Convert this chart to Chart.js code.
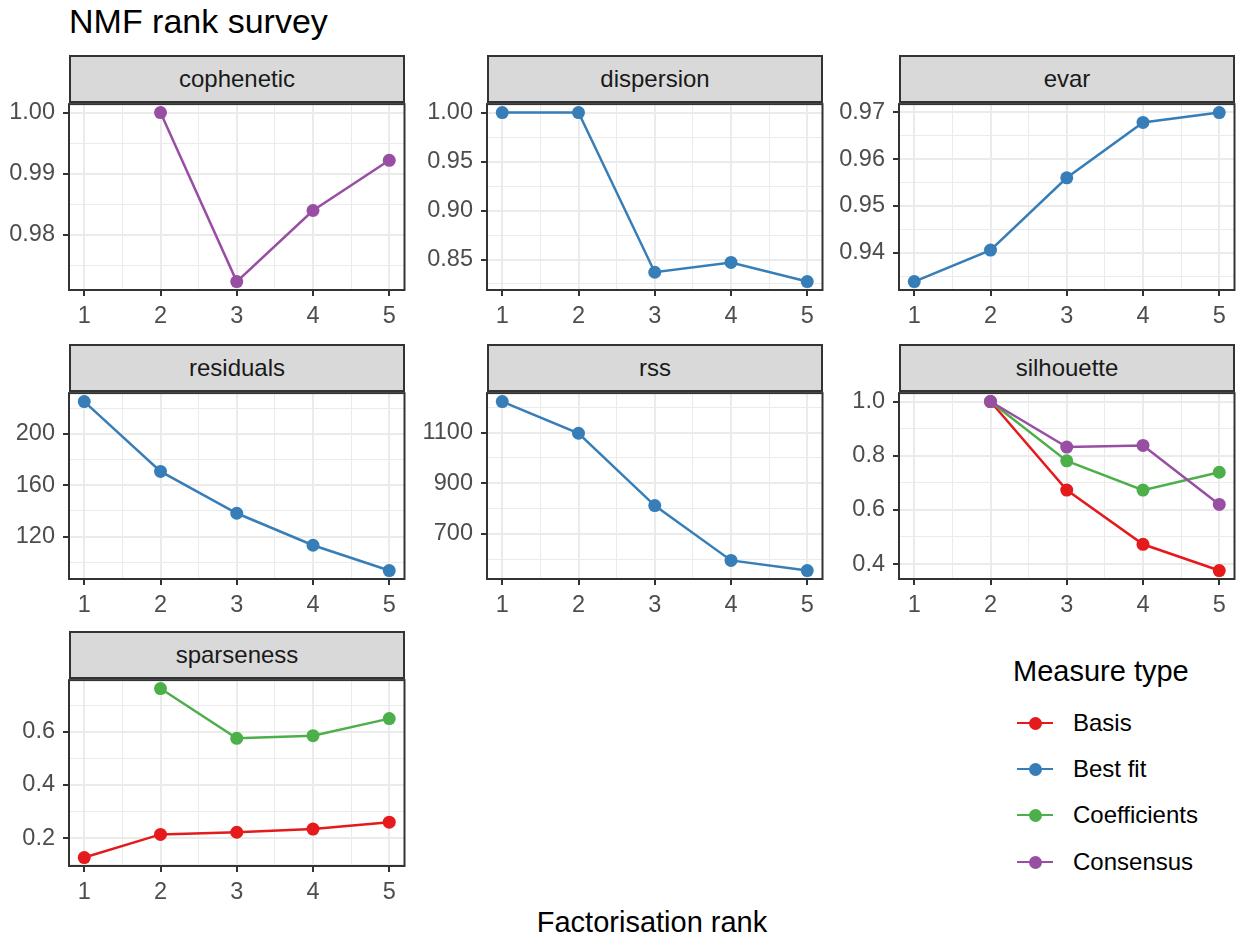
<!DOCTYPE html>
<html>
<head>
<meta charset="utf-8">
<script src="https://cdn.jsdelivr.net/npm/chart.js@4.4.1/dist/chart.umd.min.js"></script>
<style>
    body { margin: 0; background: #fff; font-family: 'Liberation Sans', Arial, Helvetica, sans-serif; }
    #page { position: relative; width: 1237px; height: 940px; overflow: hidden; }
    .strip {
        position: absolute; box-sizing: border-box; background: #d9d9d9; border: 2px solid #333;
        color: #1a1a1a; font-size: 24px; display: flex; align-items: center; justify-content: center;
    }
    canvas { position: absolute; }
    .title { position: absolute; left: 69px; top: 4px; font-size: 34px; line-height: 34px; color: #000; }
    .xtitle { position: absolute; left: 69px; width: 1166px; top: 908px; font-size: 29px; line-height: 29px; text-align: center; color: #000; }
    .legend-title { position: absolute; left: 1013px; top: 657px; font-size: 29px; line-height: 29px; color: #000; }
    .key-line { position: absolute; height: 2.6px; width: 36px; }
    .key-dot { position: absolute; width: 13px; height: 13px; border-radius: 50%; }
    .key-label { position: absolute; font-size: 24px; line-height: 24px; color: #000; }
</style>
</head>
<body>
<div id="page">
    <div class="title">NMF rank survey</div>
    <div class="xtitle">Factorisation rank</div>
    <div class="legend-title">Measure type</div>
</div>
<script>
const ranks = [1, 2, 3, 4, 5];
const xTicks = [1, 2, 3, 4, 5];

// values per measure, one entry per rank (null = not computed)
const copheneticConsensus = [null, 1.000, 0.9724, 0.9840, 0.9922];
const dispersionBestFit = [1.000, 1.000, 0.837, 0.847, 0.8275];
const evarBestFit = [0.9339, 0.9406, 0.9560, 0.9678, 0.9699];
const residualsBestFit = [225.2, 170.8, 138.2, 113.3, 93.6];
const rssBestFit = [1222, 1097, 812, 596, 556];
const silhouetteBasis = [null, 1.0, 0.673, 0.473, 0.376];
const silhouetteCoefficients = [null, 1.0, 0.781, 0.673, 0.739];
const silhouetteConsensus = [null, 1.0, 0.832, 0.838, 0.620];
const sparsenessBasis = [0.127, 0.214, 0.222, 0.234, 0.260];
const sparsenessCoefficients = [null, 0.762, 0.575, 0.585, 0.649];

// y tick labels per facet
const copheneticTicks = [0.98, 0.99, 1.00];
const dispersionTicks = [0.85, 0.90, 0.95, 1.00];
const evarTicks = [0.94, 0.95, 0.96, 0.97];
const residualsTicks = [120, 160, 200];
const rssTicks = [700, 900, 1100];
const silhouetteTicks = [0.4, 0.6, 0.8, 1.0];
const sparsenessTicks = [0.2, 0.4, 0.6];

const measureTypes = ['Basis', 'Best fit', 'Coefficients', 'Consensus'];
const colors = {
    'Basis': '#E41A1C',
    'Best fit': '#377EB8',
    'Coefficients': '#4DAF4A',
    'Consensus': '#984EA3',
};

const panels = [
    { name: 'cophenetic', col: 0, row: 0, ticks: copheneticTicks, digits: 2, series: { 'Consensus': copheneticConsensus } },
    { name: 'dispersion', col: 1, row: 0, ticks: dispersionTicks, digits: 2, series: { 'Best fit': dispersionBestFit } },
    { name: 'evar', col: 2, row: 0, ticks: evarTicks, digits: 2, series: { 'Best fit': evarBestFit } },
    { name: 'residuals', col: 0, row: 1, ticks: residualsTicks, digits: 0, series: { 'Best fit': residualsBestFit } },
    { name: 'rss', col: 1, row: 1, ticks: rssTicks, digits: 0, series: { 'Best fit': rssBestFit } },
    { name: 'silhouette', col: 2, row: 1, ticks: silhouetteTicks, digits: 1,
      series: { 'Basis': silhouetteBasis, 'Coefficients': silhouetteCoefficients, 'Consensus': silhouetteConsensus } },
    { name: 'sparseness', col: 0, row: 2, ticks: sparsenessTicks, digits: 1,
      series: { 'Basis': sparsenessBasis, 'Coefficients': sparsenessCoefficients } },
];

// layout
const colLeft = [69, 487, 899];
const plotTop = [102, 391, 678];
const PLOT_W = 336, PLOT_H = 188, STRIP_H = 47;
const AXIS_W = 80, AXIS_H = 40, PAD_TOP = 20, PAD_RIGHT = 6;

Chart.defaults.font.family = "'Liberation Sans', Arial, Helvetica, sans-serif";
Chart.defaults.animation = false;

const panelBorder = {
    id: 'panelBorder',
    afterDraw(chart) {
        const { ctx, chartArea: a } = chart;
        ctx.save();
        ctx.strokeStyle = '#333333';
        ctx.lineWidth = 2;
        ctx.strokeRect(a.left, a.top, a.right - a.left, a.bottom - a.top);
        ctx.restore();
    },
};

// major ticks plus ggplot-style minor breaks half way between them
function withMinor(majors, min, max) {
    const step = majors[1] - majors[0];
    const out = [];
    for (let k = -1; k <= majors.length; k++) {
        const major = majors[0] + k * step;
        const minor = major + step / 2;
        if (k >= 0 && k < majors.length) out.push({ value: majors[k], minor: false });
        if (minor >= min && minor <= max) out.push({ value: +minor.toFixed(6), minor: true });
    }
    return out.sort((a, b) => a.value - b.value);
}

function gridOpts() {
    return {
        color: '#EBEBEB',
        lineWidth: ctx => (ctx.tick && ctx.tick.minor ? 1 : 2),
        tickColor: ctx => (ctx.tick && ctx.tick.minor ? 'rgba(0,0,0,0)' : '#333333'),
        tickWidth: 2,
        tickLength: 6,
        drawTicks: true,
    };
}

const page = document.getElementById('page');

panels.forEach(p => {
    const left = colLeft[p.col];
    const top = plotTop[p.row];

    const strip = document.createElement('div');
    strip.className = 'strip';
    strip.textContent = p.name;
    Object.assign(strip.style, { left: left + 'px', top: (top - STRIP_H) + 'px', width: PLOT_W + 'px', height: (STRIP_H + 1) + 'px' });
    page.appendChild(strip);

    const canvas = document.createElement('canvas');
    canvas.width = AXIS_W + PLOT_W + PAD_RIGHT;
    canvas.height = PAD_TOP + PLOT_H + AXIS_H;
    canvas.style.left = (left - AXIS_W) + 'px';
    canvas.style.top = (top - PAD_TOP) + 'px';
    page.appendChild(canvas);

    const all = Object.values(p.series).flat().filter(v => v !== null);
    const lo = Math.min(...all), hi = Math.max(...all);
    const yMin = lo - (hi - lo) * 0.05, yMax = hi + (hi - lo) * 0.05;
    const yList = withMinor(p.ticks, yMin, yMax);
    const xList = withMinor(xTicks, 0.8, 5.2);

    const datasets = Object.entries(p.series).map(([type, vals]) => ({
        label: type,
        data: ranks.map((r, i) => ({ x: r, y: vals[i] })),
        borderColor: colors[type],
        backgroundColor: colors[type],
        borderWidth: 2.5,
        pointRadius: 6.5,
        pointBorderWidth: 0,
        pointHoverRadius: 6.5,
        clip: false,
        order: measureTypes.length - measureTypes.indexOf(type),
    }));

    new Chart(canvas.getContext('2d'), {
        type: 'line',
        data: { datasets },
        options: {
            responsive: false,
            layout: { padding: { top: PAD_TOP, right: PAD_RIGHT, left: 0, bottom: 0 } },
            plugins: { legend: { display: false }, tooltip: { enabled: false } },
            scales: {
                x: {
                    type: 'linear',
                    position: 'bottom',
                    min: 0.8,
                    max: 5.2,
                    bounds: 'data',
                    afterBuildTicks: s => { s.ticks = xList.map(t => ({ ...t })); },
                    afterFit: s => { s.height = AXIS_H; },
                    grid: gridOpts(),
                    border: { display: false },
                    ticks: {
                        autoSkip: false,
                        maxRotation: 0,
                        padding: 6,
                        color: '#4D4D4D',
                        font: { size: 23.5 },
                        callback: (v, i, ticks) => (ticks[i].minor ? '' : String(v)),
                    },
                },
                y: {
                    type: 'linear',
                    position: 'left',
                    min: yMin,
                    max: yMax,
                    bounds: 'data',
                    afterBuildTicks: s => { s.ticks = yList.map(t => ({ ...t })); },
                    afterFit: s => { s.width = AXIS_W; },
                    grid: gridOpts(),
                    border: { display: false },
                    ticks: {
                        autoSkip: false,
                        padding: 8,
                        color: '#4D4D4D',
                        font: { size: 23.5 },
                        callback: (v, i, ticks) => (ticks[i].minor ? '' : v.toFixed(p.digits)),
                    },
                },
            },
        },
        plugins: [panelBorder],
    });
});

// legend
const keyY = [723, 769, 815, 862];
measureTypes.forEach((type, i) => {
    const y = keyY[i];
    const line = document.createElement('div');
    line.className = 'key-line';
    Object.assign(line.style, { left: '1017px', top: (y - 1.3) + 'px', background: colors[type] });
    const dot = document.createElement('div');
    dot.className = 'key-dot';
    Object.assign(dot.style, { left: '1028.5px', top: (y - 6.5) + 'px', background: colors[type] });
    const label = document.createElement('div');
    label.className = 'key-label';
    label.textContent = type;
    Object.assign(label.style, { left: '1073px', top: (y - 12) + 'px' });
    page.append(line, dot, label);
});
</script>
</body>
</html>
